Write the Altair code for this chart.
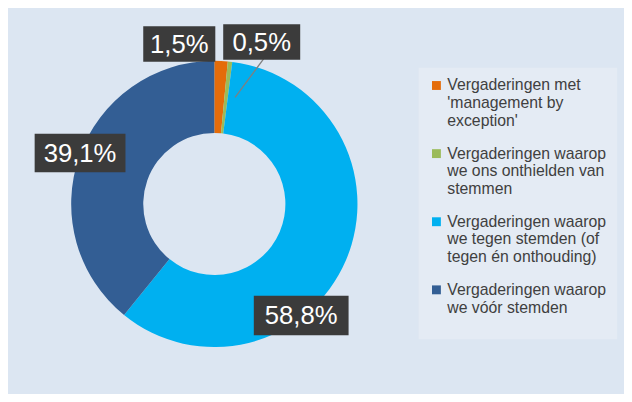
import altair as alt
import pandas as pd

# ---- data ----
categories = [
    "Vergaderingen met\n'management by\nexception'",
    "Vergaderingen waarop\nwe ons onthielden van\nstemmen",
    "Vergaderingen waarop\nwe tegen stemden (of\ntegen én onthouding)",
    "Vergaderingen waarop\nwe vóór stemden",
]
values = [1.5, 0.5, 58.8, 39.1]
labels = ["1,5%", "0,5%", "58,8%", "39,1%"]
colors = ["#e46c0a", "#9bbb59", "#00b0f0", "#335e94"]

df = pd.DataFrame({
    "category": categories,
    "value": values,
    "label": labels,
    "idx": list(range(len(categories))),
})

base = alt.Chart(df)

donut = base.mark_arc(outerRadius=145, innerRadius=72, strokeWidth=0).encode(
    theta=alt.Theta("value:Q", stack=True),
    color=alt.Color(
        "category:N",
        sort=categories,
        scale=alt.Scale(domain=categories, range=colors),
        legend=alt.Legend(
            title=" ",
            titleOrient="bottom",
            titleFontSize=8,
            titlePadding=6,
            orient="none",
            legendX=416,
            legendY=52,
            fillColor="#e4ebf4",
            padding=10,
            symbolType="square",
            symbolSize=81,
            symbolStrokeWidth=0,
            labelFontSize=16,
            labelFont="Arial",
            labelColor="#404040",
            labelOffset=3,
            rowPadding=17,
            labelLimit=0,
            labelExpr="split(datum.label, '\\n')",
        ),
    ),
    order=alt.Order("idx:Q"),
)

# label boxes (offsets relative to the donut centre, as placed in the original)
placements = {
    "1,5%": (-35.5, -162, 73, 36),
    "0,5%": (48, -164, 78, 36),
    "39,1%": (-136, -51.5, 92, 39),
    "58,8%": (88, 113, 96, 40),
}

layers = [donut]

# leader line for the 0,5% label
leader = base.transform_filter(alt.datum.label == "0,5%").mark_point(
    shape="M0.74,-1L-0.74,1",
    size=39 * 39,
    filled=False,
    stroke="#7f7f7f",
    strokeWidth=1.3,
    opacity=1,
    xOffset=35.5,
    yOffset=-127.5,
).encode(detail="label:N")
layers.append(leader)

for lab, (xo, yo, w, h) in placements.items():
    half_h = h / w
    path = f"M-1,{-half_h}H1V{half_h}H-1Z"
    box = base.transform_filter(alt.datum.label == lab).mark_point(
        shape=path,
        size=w * w,
        filled=True,
        fill="#3b3b3b",
        strokeWidth=0,
        opacity=1,
        xOffset=xo,
        yOffset=yo,
    ).encode(detail="label:N")
    txt = base.transform_filter(alt.datum.label == lab).mark_text(
        dx=xo,
        dy=yo + 1,
        fontSize=26,
        font="Arial",
        color="white",
        baseline="middle",
        align="center",
    ).encode(text="label:N")
    layers.extend([box, txt])

chart = alt.layer(*layers).properties(
    width=418,
    height=380,
    padding={"left": 0, "top": 6, "right": 7, "bottom": 0},
    background="#dce6f2",
).configure_view(stroke=None)

chart.save("out.html", embed_options={"renderer": "svg", "actions": False})
